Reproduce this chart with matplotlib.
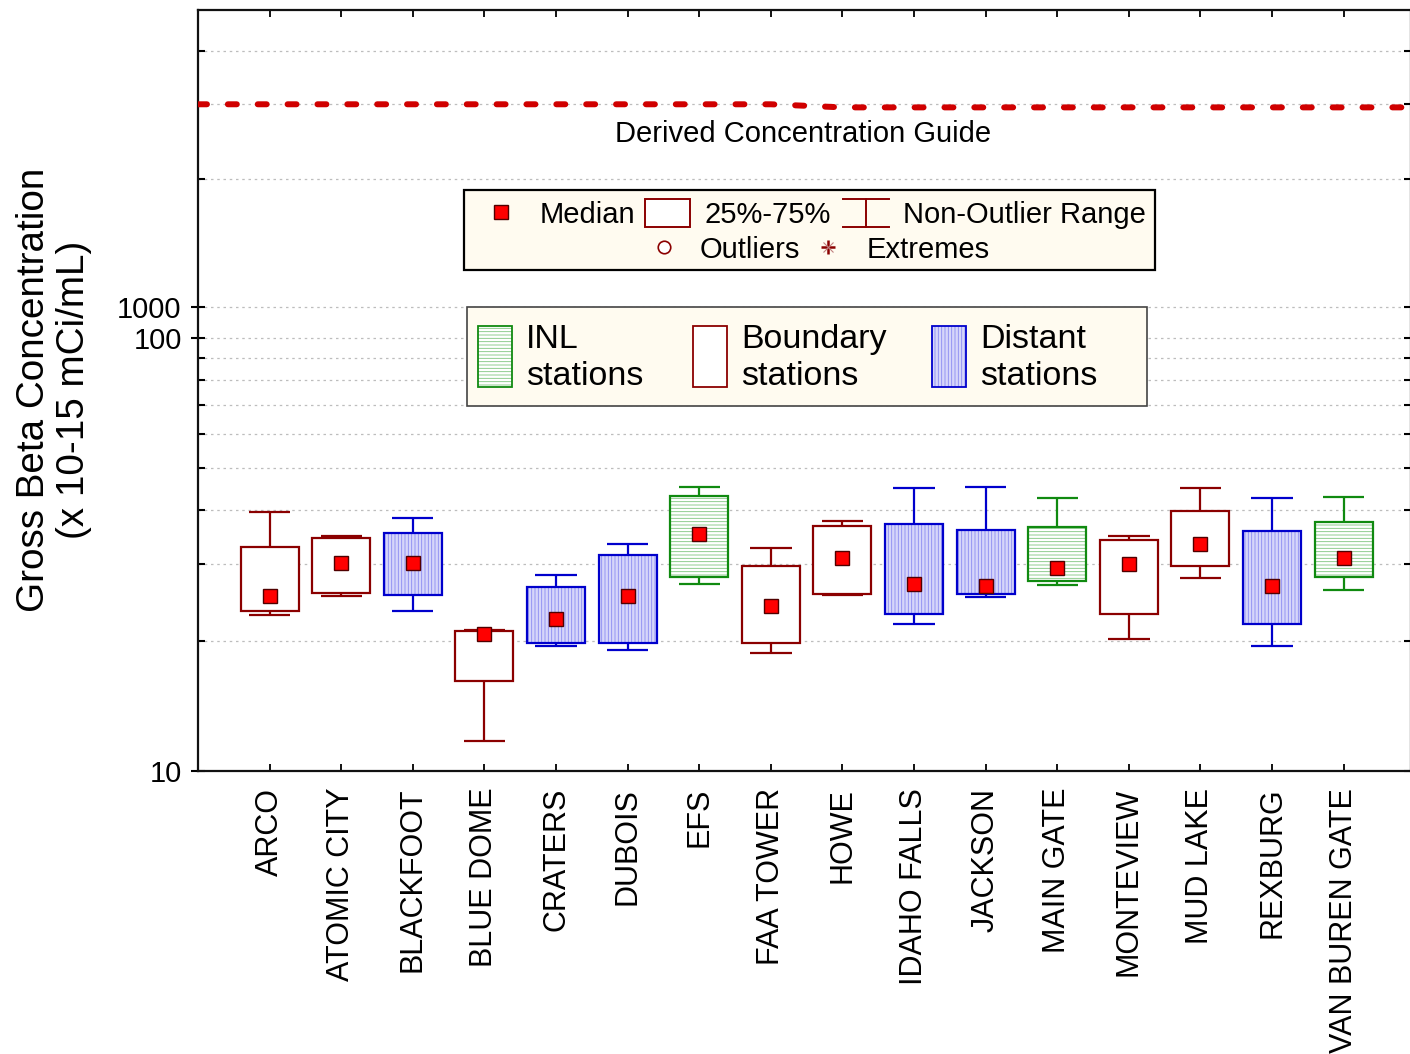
import numpy as np
import matplotlib
matplotlib.use("Agg")
import matplotlib.pyplot as plt
from matplotlib.patches import Rectangle
from matplotlib.ticker import FixedLocator, FixedFormatter, NullFormatter

plt.rcParams["font.family"] = ["Liberation Sans", "DejaVu Sans"]
plt.rcParams["hatch.linewidth"] = 0.6

# ---- data -------------------------------------------------------------
stations = ["ARCO", "ATOMIC CITY", "BLACKFOOT", "BLUE DOME", "CRATERS",
            "DUBOIS", "EFS", "FAA TOWER", "HOWE", "IDAHO FALLS", "JACKSON",
            "MAIN GATE", "MONTEVIEW", "MUD LAKE", "REXBURG", "VAN BUREN GATE"]
groups = ["boundary", "boundary", "distant", "boundary", "distant",
          "distant", "inl", "boundary", "boundary", "distant", "distant",
          "inl", "boundary", "boundary", "distant", "inl"]
whisker_low = [22.9, 25.4, 23.4, 11.7, 19.4, 19.0, 27.0, 18.7,
               25.5, 21.8, 25.2, 26.9, 20.2, 27.9, 19.4, 26.2]
q25 = [23.4, 25.8, 25.5, 16.1, 19.8, 19.8, 28.0, 19.8,
       25.6, 23.1, 25.7, 27.5, 23.1, 29.7, 21.9, 28.1]
median = [25.3, 30.3, 30.3, 20.7, 22.5, 25.3, 35.2, 24.0,
          31.0, 27.0, 26.7, 29.4, 30.0, 33.4, 26.7, 31.0]
q75 = [33.0, 34.5, 35.5, 21.05, 26.6, 31.5, 43.2, 29.8,
       36.8, 37.1, 36.0, 36.6, 34.2, 39.8, 35.8, 37.5]
whisker_high = [39.7, 34.9, 38.5, 21.2, 28.3, 33.4, 45.3, 32.7,
                37.8, 45.0, 45.4, 42.8, 34.9, 45.0, 42.8, 43.0]
# Derived Concentration Guide at each station
dcg = [3000, 3000, 3000, 3000, 3000, 3000, 3000, 3000,
       2950, 2950, 2950, 2950, 2950, 2950, 2950, 2950]

y_major = [10, 100, 1000]
y_major_labels = ["10", "100", "1000"]
y_minor = [20, 30, 40, 50, 60, 70, 80, 90, 2000, 3000, 4000]

# ---- styles per station group ----------------------------------------
style = {
    "boundary": dict(edge="#8B0000", face="white", hatch=None, hcol=None),
    "distant": dict(edge="#0000CC", face="#D6D6FA", hatch="|||||", hcol="#8A8AF2"),
    "inl": dict(edge="#108A10", face="white", hatch="-----", hcol="#7CC47C"),
}

# ---- broken log axis: 10-100 and 1000-5000 ---------------------------
GAP = 31 / 433.0
K = 425 / 433.0


def fwd(v):
    v = np.asarray(v, dtype=float)
    L = np.log10(np.clip(v, 1e-12, None))
    return np.where(L <= 2, L,
                    np.where(L <= 3, 2 + GAP * (L - 2), 2 + GAP + K * (L - 3)))


def inv(u):
    u = np.asarray(u, dtype=float)
    with np.errstate(over="ignore", invalid="ignore"):
        return np.where(u <= 2, 10.0 ** u,
                        np.where(u <= 2 + GAP, 10.0 ** (2 + (u - 2) / GAP),
                                 10.0 ** (3 + (u - 2 - GAP) / K)))


W, H = 1410, 1054
fig = plt.figure(figsize=(W / 100, H / 100), dpi=100)
ax = fig.add_axes([198 / W, (H - 771) / H, (1411 - 198) / W, (771 - 10) / H])
ax.set_yscale("function", functions=(fwd, inv))
ax.set_ylim(10, 5000)
ax.set_xlim(0, 16.94)

x = np.arange(1, len(stations) + 1)
box_w = 0.81
cap_w = 0.577

for xi, g, lo, a, m, b, hi in zip(x, groups, whisker_low, q25, median, q75, whisker_high):
    st = style[g]
    if st["hatch"]:
        ax.bar(xi, b - a, bottom=a, width=box_w, color=st["face"],
               edgecolor=st["hcol"], hatch=st["hatch"], linewidth=0, zorder=2)
    else:
        ax.bar(xi, b - a, bottom=a, width=box_w, color=st["face"],
               linewidth=0, zorder=2)
    ax.bar(xi, b - a, bottom=a, width=box_w, fill=False,
           edgecolor=st["edge"], linewidth=1.6, zorder=3)
    ax.vlines([xi, xi], [b, lo], [hi, a], color=st["edge"], linewidth=1.6, zorder=3)
    ax.hlines([hi, lo], xi - cap_w / 2, xi + cap_w / 2, color=st["edge"],
              linewidth=1.6, zorder=3)

ax.plot(x, median, "s", ms=10.5, mfc="#FF0000", mec="#500000", mew=1.0,
        linestyle="none", zorder=4)

# DCG reference line
dcg_x = np.concatenate([[0], x, [17]])
dcg_y = np.concatenate([[dcg[0]], dcg, [dcg[-1]]])
ax.plot(dcg_x, dcg_y, color="#D00000", linewidth=4.3,
        linestyle=(0, (1.5, 3.5)), dash_capstyle="round", zorder=3)
ax.text(8.45, 2560, "Derived Concentration Guide",
        ha="center", va="center", fontsize=21)

# axes, ticks and grid
ax.set_xticks(x)
ax.set_xticklabels(stations, rotation=90, fontsize=22)
ax.yaxis.set_major_locator(FixedLocator(y_major))
ax.yaxis.set_major_formatter(FixedFormatter(y_major_labels))
ax.yaxis.set_minor_locator(FixedLocator(y_minor))
ax.yaxis.set_minor_formatter(NullFormatter())
ax.tick_params(axis="x", which="major", direction="in", length=5, width=1.3,
               top=True, pad=12, colors="black")
ax.tick_params(axis="y", which="major", direction="inout", length=9.5,
               width=1.5, pad=7, labelsize=21, right=True)
ax.tick_params(axis="y", which="minor", direction="in", length=5, width=1.5,
               right=True)
ax.yaxis.grid(True, which="both", color="#BDBDBD", linestyle=(0, (2, 3)),
              linewidth=0.9)
ax.set_axisbelow(True)
for sp in ax.spines.values():
    sp.set_linewidth(1.6)
    sp.set_color("#111111")

fig.text(54 / W, 1 - 390 / H, "Gross Beta Concentration\n(x 10-15 mCi/mL)",
         rotation=90, ha="center", va="center", fontsize=27.8,
         linespacing=1.15, multialignment="center")

# ---- legends drawn in pixel space --------------------------------------
lg = fig.add_axes([0, 0, 1, 1], zorder=10)
lg.set_xlim(0, W)
lg.set_ylim(H, 0)
lg.axis("off")
cream = "#FFFBF0"

# legend of box plot elements
lg.add_patch(Rectangle((464, 190), 691, 80, facecolor=cream,
                       edgecolor="black", linewidth=1.6))
lg.plot([501], [212], "s", ms=10.5, mfc="#FF0000", mec="#500000", mew=1.0)
lg.text(540, 215, "Median", fontsize=21, va="center")
lg.add_patch(Rectangle((645, 199), 45, 28, facecolor="white",
                       edgecolor="#8B0000", linewidth=1.4))
lg.text(704, 215, "25%-75%", fontsize=21, va="center")
lg.plot([843, 889], [199, 199], color="#8B0000", lw=1.4)
lg.plot([843, 889], [227, 227], color="#8B0000", lw=1.4)
lg.plot([866, 866], [199, 227], color="#8B0000", lw=1.4)
lg.text(903, 215, "Non-Outlier Range", fontsize=21, va="center")
lg.plot([664], [247], "o", ms=9, mfc="white", mec="#8B0000", mew=1.2)
lg.text(700, 250, "Outliers", fontsize=21, va="center")
lg.plot([828], [247], "+", ms=10, mec="#8B0000", mew=1.8)
lg.plot([828], [247], "x", ms=7, mec="#C08080", mew=0.8)
lg.text(867, 250, "Extremes", fontsize=21, va="center")

# legend of station groups
lg.add_patch(Rectangle((467, 307), 680, 99, facecolor=cream,
                       edgecolor="#444444", linewidth=1.2))
items = [(478, "inl", "INL\nstations"), (693, "boundary", "Boundary\nstations"),
         (932, "distant", "Distant\nstations")]
for x0, g, label in items:
    st = style[g]
    if st["hatch"]:
        lg.add_patch(Rectangle((x0, 326), 34, 61, facecolor=st["face"],
                               edgecolor=st["hcol"], hatch=st["hatch"],
                               linewidth=0))
    else:
        lg.add_patch(Rectangle((x0, 326), 34, 61, facecolor="white",
                               linewidth=0))
    lg.add_patch(Rectangle((x0, 326), 34, 61, fill=False,
                           edgecolor=st["edge"], linewidth=1.3))
    lg.text(x0 + 48, 358, label, fontsize=24.5, va="center",
            linespacing=1.26)

fig.savefig("out.png", dpi=100)
